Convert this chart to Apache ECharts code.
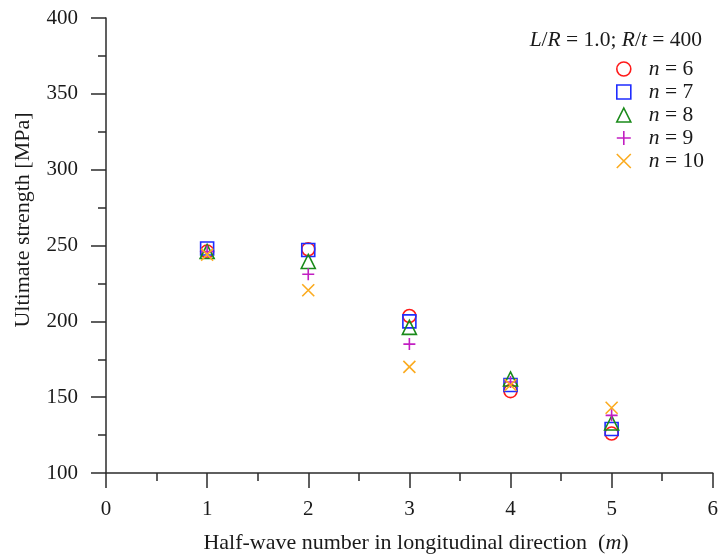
<!DOCTYPE html>
<html>
<head>
<meta charset="utf-8">
<script src="https://cdn.jsdelivr.net/npm/echarts@6/dist/echarts.min.js"></script>
<style>
  html, body { margin: 0; padding: 0; background: #fff; }
  #chart { width: 721px; height: 560px; }
</style>
</head>
<body>
<div id="chart"></div>
<script>
// Half-wave number m along the cylinder
const halfWaves = [1, 2, 3, 4, 5];

// Ultimate strength [MPa] for each circumferential wave number n
const strengthN6 = [246, 247.5, 203.5, 154, 126];
const strengthN7 = [248, 247, 200, 158, 129];
const strengthN8 = [246, 239.5, 196, 162, 133];
const strengthN9 = [246, 231, 185, 160, 138];
const strengthN10 = [244, 220.5, 170, 158, 143];

const seriesNames = ['n = 6', 'n = 7', 'n = 8', 'n = 9', 'n = 10'];

const FONT = '"Liberation Serif", "Times New Roman", serif';
const AXIS_COLOR = '#2b2b2b';
const TEXT_COLOR = '#1a1a1a';

const pairs = vals => halfWaves.map((m, i) => [m, vals[i]]);

const markers = [
  { name: seriesNames[0], data: strengthN6, symbol: 'circle', size: 13, color: '#ff1a1a' },
  { name: seriesNames[1], data: strengthN7, symbol: 'rect', size: 13, color: '#1f2cff' },
  { name: seriesNames[2], data: strengthN8, symbol: 'triangle', size: 14, color: '#1a8a1a' },
  { name: seriesNames[3], data: strengthN9, symbol: 'path://M5,0L5,10M0,5L10,5', size: 12, color: '#c21fc2' },
  { name: seriesNames[4], data: strengthN10, symbol: 'path://M0,0L10,10M10,0L0,10', size: 12, color: '#fbab1f' }
];

const chart = echarts.init(document.getElementById('chart'), null, { renderer: 'canvas' });

const axisCommon = {
  axisLine: { show: true, onZero: false, lineStyle: { color: AXIS_COLOR, width: 1.5 } },
  axisTick: { show: true, inside: false, length: 15, lineStyle: { color: AXIS_COLOR, width: 1.5 } },
  minorTick: { show: true, splitNumber: 2, length: 8, lineStyle: { color: AXIS_COLOR, width: 1.5 } },
  splitLine: { show: false },
  minorSplitLine: { show: false }
};

const italic = size => ({ fontFamily: FONT, fontSize: size, fontStyle: 'italic', color: TEXT_COLOR });

chart.setOption({
  backgroundColor: '#ffffff',
  animation: false,
  grid: { left: 106, right: 7, top: 18, bottom: 87, containLabel: false },
  title: {
    text: '{i|L}/{i|R} = 1.0; {i|R}/{i|t} = 400',
    right: 14,
    top: 24,
    textStyle: {
      fontFamily: FONT,
      fontSize: 21.5,
      fontWeight: 'normal',
      color: TEXT_COLOR,
      rich: { i: italic(21.5) }
    }
  },
  legend: {
    orient: 'vertical',
    left: 611,
    top: 53,
    itemWidth: 14,
    itemHeight: 14,
    itemGap: 1,
    data: markers.map(mk => ({
      name: mk.name,
      icon: mk.symbol,
      itemStyle: { color: 'rgba(0,0,0,0)', borderColor: mk.color, borderWidth: 1.6 }
    })),
    formatter: name => '{s|}{i|n}' + name.slice(1),
    textStyle: {
      fontFamily: FONT,
      fontSize: 21.5,
      color: TEXT_COLOR,
      rich: { s: { width: 13 }, i: italic(21.5) }
    }
  },
  xAxis: Object.assign({
    type: 'value',
    min: 0,
    max: 6,
    interval: 1,
    axisLabel: { margin: 26, fontFamily: FONT, fontSize: 21, color: TEXT_COLOR }
  }, axisCommon),
  yAxis: Object.assign({
    type: 'value',
    min: 100,
    max: 400,
    interval: 50,
    axisLabel: { margin: 28, fontFamily: FONT, fontSize: 21, color: TEXT_COLOR }
  }, axisCommon),
  graphic: [
    {
      type: 'text',
      x: 416,
      y: 543,
      style: {
        text: 'Half-wave number in longitudinal direction  ({i|m})',
        font: '22px ' + FONT,
        fill: TEXT_COLOR,
        align: 'center',
        verticalAlign: 'middle',
        rich: { i: { fontFamily: FONT, fontSize: 22, fontStyle: 'italic', fill: TEXT_COLOR } }
      }
    },
    {
      type: 'text',
      x: 23,
      y: 220,
      rotation: Math.PI / 2,
      style: {
        text: 'Ultimate strength [MPa]',
        font: '22px ' + FONT,
        fill: TEXT_COLOR,
        align: 'center',
        verticalAlign: 'middle'
      }
    }
  ],
  series: markers.map(mk => ({
    name: mk.name,
    type: 'scatter',
    data: pairs(mk.data),
    symbol: mk.symbol,
    symbolSize: mk.size,
    itemStyle: { color: 'rgba(0,0,0,0)', borderColor: mk.color, borderWidth: 1.6, opacity: 1 },
    emphasis: { disabled: true }
  }))
});
</script>
</body>
</html>
